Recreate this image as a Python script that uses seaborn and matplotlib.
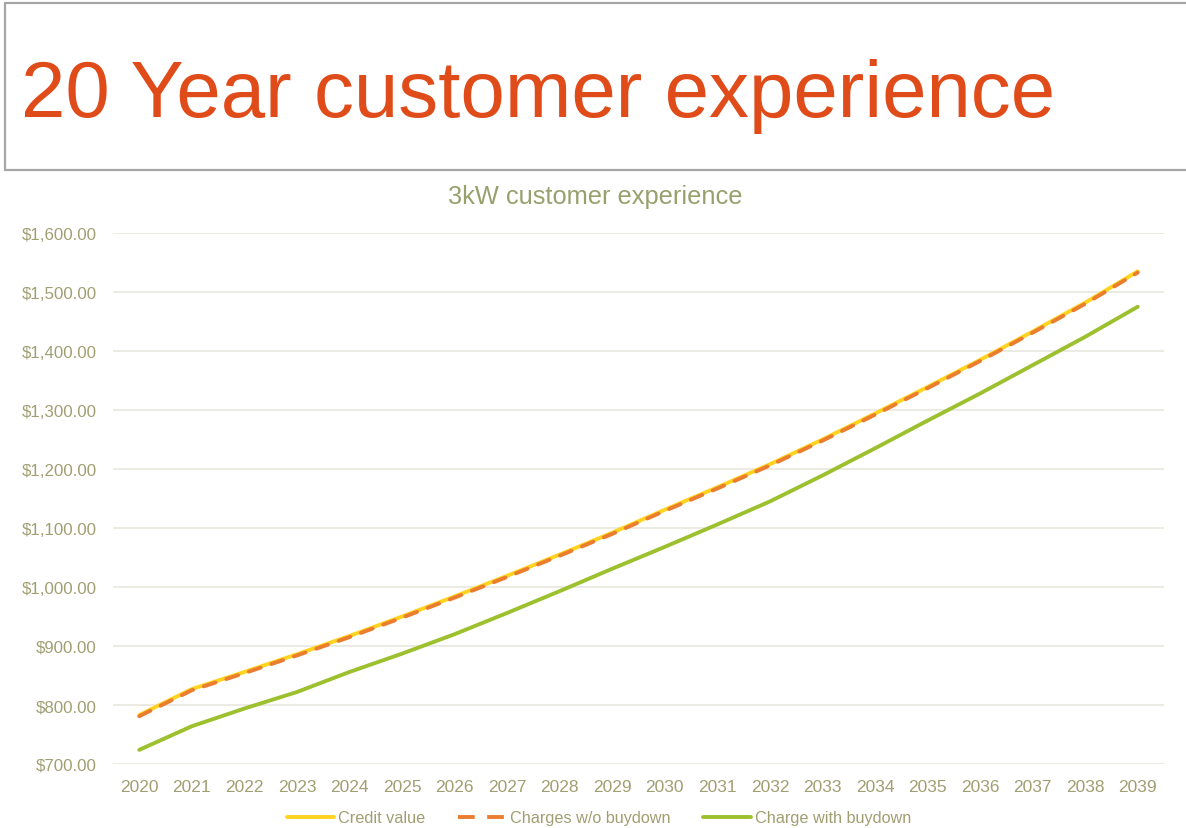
import matplotlib
matplotlib.use("Agg")
import matplotlib.pyplot as plt
from matplotlib.lines import Line2D
import seaborn as sns
import pandas as pd

years = [str(y) for y in range(2020, 2040)]
credit_value = [783, 827, 856, 886, 917, 950, 984, 1019, 1055, 1092,
                1131, 1169, 1208, 1250, 1294, 1339, 1385, 1433, 1482, 1535]
charges_wo_buydown = [781, 825, 854, 884, 915, 948, 982, 1017, 1053, 1090,
                      1129, 1167, 1206, 1248, 1292, 1337, 1383, 1431, 1480, 1533]
charge_with_buydown = [724, 764, 794, 822, 856, 887, 920, 956, 993, 1031,
                       1068, 1106, 1145, 1189, 1235, 1282, 1328, 1376, 1424, 1475]
series_names = ["Credit value", "Charges w/o buydown", "Charge with buydown"]
y_ticks = [700, 800, 900, 1000, 1100, 1200, 1300, 1400, 1500, 1600]

sns.set_theme(style="white")
plt.rcParams['font.family'] = ['Liberation Sans', 'DejaVu Sans']

W, H = 1186, 829
fig = plt.figure(figsize=(W / 100, H / 100), dpi=100)


def fx(px):
    return px / W


def fy(py):
    return 1 - py / H


# Header box (no right border)
box_col = "#A6A6A6"
fig.add_artist(Line2D([fx(5), 1.0], [fy(4), fy(4)], color=box_col, lw=1.6))
fig.add_artist(Line2D([fx(5), 1.0], [fy(171), fy(171)], color=box_col, lw=1.6))
fig.add_artist(Line2D([fx(5), fx(5)], [fy(4), fy(171)], color=box_col, lw=1.6))
fig.text(fx(21), fy(117), "20 Year customer experience", fontsize=57.5,
         color="#E04B1A", ha="left", va="baseline")

# Chart
ax = fig.add_axes([fx(113), fy(765), fx(1164) - fx(113), fy(234) - fy(765)])

df = pd.DataFrame({
    "Year": years * 3,
    "idx": list(range(len(years))) * 3,
    "Value": credit_value + charges_wo_buydown + charge_with_buydown,
    "Series": [series_names[0]] * 20 + [series_names[1]] * 20 + [series_names[2]] * 20,
})
palette = {series_names[0]: "#FFD320", series_names[1]: "#EB7D2F",
           series_names[2]: "#9DC02E"}
dash_pat = (3.2, 2.9)
dashes = {series_names[0]: "", series_names[1]: dash_pat, series_names[2]: ""}

sns.lineplot(data=df, x="idx", y="Value", hue="Series", style="Series",
             palette=palette, dashes=dashes, linewidth=2.8, ax=ax,
             legend=False, solid_capstyle="round", dash_capstyle="round")

ax.set_xlim(-0.5, len(years) - 0.5)
ax.set_ylim(700, 1600)
ax.set_xticks(range(len(years)))
ax.set_xticklabels(years)
ax.set_yticks(y_ticks)
ax.set_yticklabels([f"${v:,.2f}" for v in y_ticks])
ax.set_xlabel("")
ax.set_ylabel("")
for s in ax.spines.values():
    s.set_visible(False)
ax.grid(axis="y", color="#E8E8DF", lw=1.2)
ax.grid(axis="x", visible=False)
ax.set_axisbelow(True)
tick_col = "#A09F72"
ax.tick_params(axis="both", length=0, colors=tick_col)
ax.tick_params(axis="y", pad=11.5, labelsize=12.2)
ax.tick_params(axis="x", pad=11, labelsize=12.5)

fig.text(fx(595), fy(197), "3kW customer experience", fontsize=18.3,
         color="#98A06E", ha="center", va="center")

handles = [Line2D([0], [0], color=palette[series_names[0]], lw=2.8),
           Line2D([0], [0], color=palette[series_names[1]], lw=2.8, dashes=(4.3, 3.2)),
           Line2D([0], [0], color=palette[series_names[2]], lw=2.8)]
leg = fig.legend(handles, series_names, loc="center", bbox_to_anchor=(fx(599), fy(819)),
                 ncol=3, frameon=False, fontsize=11.7, handlelength=2.95,
                 columnspacing=2.0, handletextpad=0.25)
for t in leg.get_texts():
    t.set_color(tick_col)

fig.savefig("out.png", dpi=100)
